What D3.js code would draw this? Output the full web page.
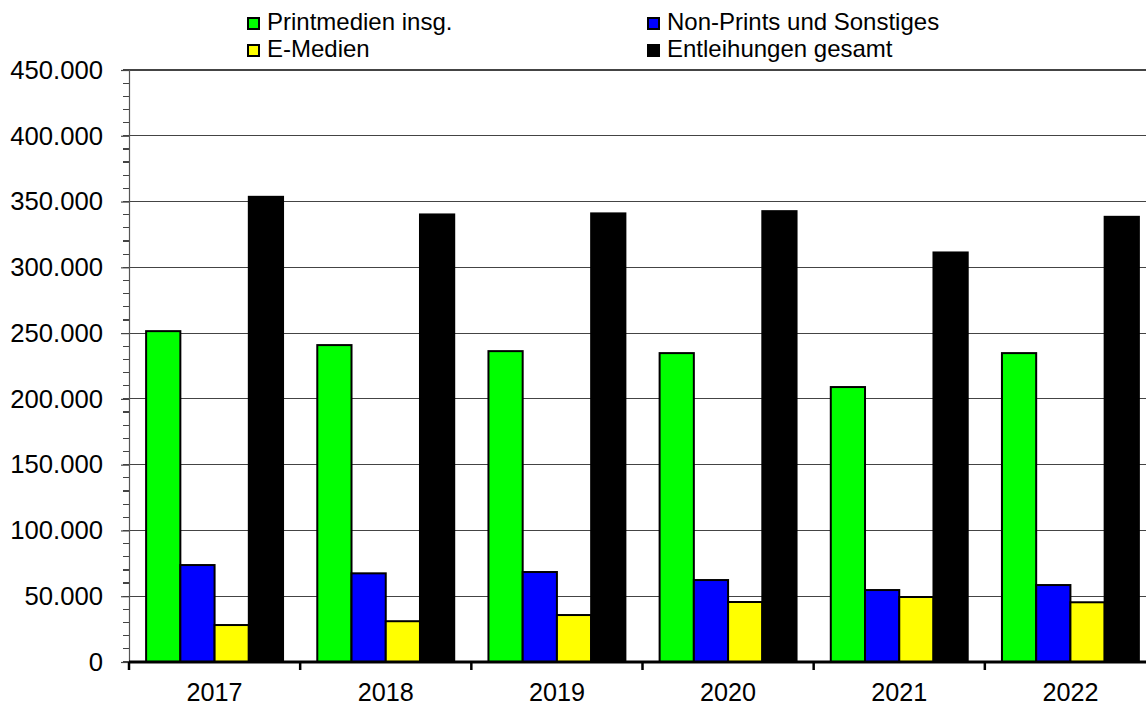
<!DOCTYPE html>
<html><head><meta charset="utf-8">
<script src="https://cdn.jsdelivr.net/npm/d3@7"></script>
<style>body{margin:0;background:#fff}svg{display:block}text{font-family:"Liberation Sans",Arial,sans-serif}</style>
</head><body>
<svg id="c" width="1146" height="707"></svg>
<script>
const years = ["2017","2018","2019","2020","2021","2022"];
const seriesNames = ["Printmedien insg.","Non-Prints und Sonstiges","E-Medien","Entleihungen gesamt"];
const seriesColors = ["#00ff00","#0000ff","#ffff00","#000000"];
const printmedien = [251500,240900,236300,234800,209000,234800];
const nonPrints = [73700,67400,68400,62300,54700,58500];
const eMedien = [28100,31000,35700,45600,49400,45400];
const gesamt = [353600,340200,341000,342700,311300,338400];
const yTicks = [0,50000,100000,150000,200000,250000,300000,350000,400000,450000];

const series = [printmedien,nonPrints,eMedien,gesamt];
const svg = d3.select("#c");
const L = 129, R = 1156, T = 70, B = 662;
const x = d3.scaleBand().domain(years).range([L,R]).paddingInner(0).paddingOuter(0);
const y = d3.scaleLinear().domain([0,450000]).range([B,T]);
const fmt = v => d3.format(",")(v).replace(/,/g,".");

// gridlines
svg.append("g").selectAll("line").data(yTicks.filter(d=>d>0)).join("line")
  .attr("x1",L).attr("x2",R).attr("y1",d=>y(d)).attr("y2",d=>y(d))
  .attr("stroke","#444").attr("stroke-width",1.2).attr("shape-rendering","crispEdges");

// minor ticks
const minor = d3.range(0,450001,10000);
svg.append("g").selectAll("line").data(minor).join("line")
  .attr("x1",L-6).attr("x2",L).attr("y1",d=>y(d)).attr("y2",d=>y(d))
  .attr("stroke","#444").attr("stroke-width",1.2).attr("shape-rendering","crispEdges");

// y axis
const yAxis = d3.axisLeft(y).tickValues(yTicks).tickFormat(fmt).tickSize(8).tickPadding(18);
const gy = svg.append("g").attr("transform",`translate(${L},0)`).call(yAxis)
  .attr("font-size",null).attr("font-family",null);
gy.select(".domain").attr("stroke","#555").attr("stroke-width",1.2);
gy.selectAll(".tick line").attr("stroke","#444").attr("stroke-width",1.2);
gy.selectAll("text").style("font-size","25.7px").attr("fill","#000");

// bars
const inner = d3.scaleBand().domain(d3.range(4)).range([0,x.bandwidth()]).paddingOuter(0.5).paddingInner(0);
const groups = svg.append("g").selectAll("g").data(years).join("g")
  .attr("transform",d=>`translate(${x(d)},0)`);
groups.selectAll("rect").data((d,i)=>series.map((s,k)=>({k,v:s[i]}))).join("rect")
  .attr("x",d=>inner(d.k)).attr("width",inner.bandwidth())
  .attr("y",d=>y(d.v)).attr("height",d=>B-y(d.v))
  .attr("fill",d=>seriesColors[d.k]).attr("stroke","#000").attr("stroke-width",2);

// x axis
const xAxis = d3.axisBottom(x).tickSize(0).tickPadding(21);
const gx = svg.append("g").attr("transform",`translate(0,${B})`).call(xAxis)
  .attr("font-size",null).attr("font-family",null);
gx.select(".domain").attr("stroke","#000").attr("stroke-width",3).attr("d",`M${L},0H${R}`);
gx.selectAll("text").style("font-size","25.2px").attr("fill","#000");
svg.append("g").selectAll("line").data(d3.range(7)).join("line")
  .attr("x1",i=>L+i*x.bandwidth()).attr("x2",i=>L+i*x.bandwidth())
  .attr("y1",B).attr("y2",B+8).attr("stroke","#000").attr("stroke-width",2.5);

// legend
const legPos = [[247,17],[647,17],[247,44],[647,44]];
const legOrder = [0,1,2,3];
const leg = svg.append("g").selectAll("g").data(legOrder).join("g")
  .attr("transform",(d,i)=>`translate(${legPos[i][0]},${legPos[i][1]})`);
leg.append("rect").attr("x",1).attr("y",1).attr("width",11).attr("height",11)
  .attr("fill",d=>seriesColors[d]).attr("stroke","#000").attr("stroke-width",2);
leg.append("text").attr("x",20).attr("y",13).style("font-size","24px").attr("fill","#000")
  .text(d=>seriesNames[d]);
</script>
</body></html>
